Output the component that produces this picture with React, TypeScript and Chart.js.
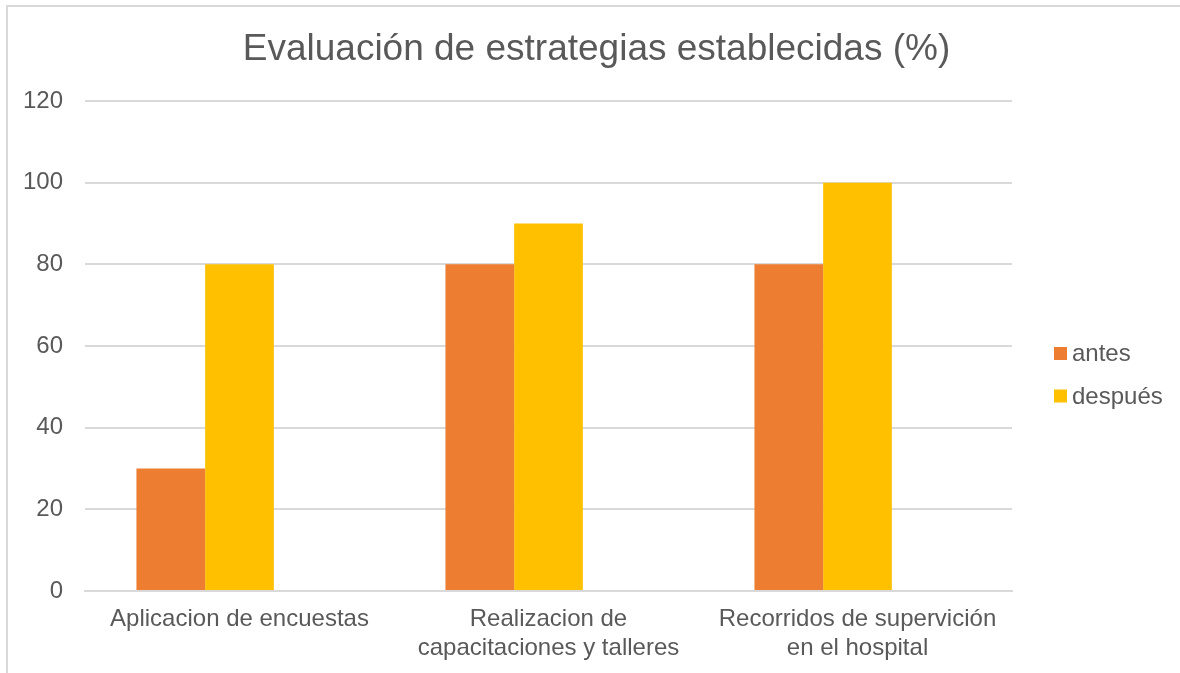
import React, { useEffect, useRef } from "react";
import { Chart, registerables } from "chart.js";

Chart.register(...registerables);

const chartTitle = "Evaluación de estrategias establecidas (%)";
const categories: (string | string[])[] = [
  "Aplicacion de encuestas",
  ["Realizacion de", "capacitaciones y talleres"],
  ["Recorridos de supervición", "en el hospital"],
];
const seriesNames = ["antes", "después", ""];
const antesValues = [30, 80, 80];
const despuesValues = [80, 90, 100];
const emptySeriesValues: (number | null)[] = [null, null, null];
const yMin = 0;
const yMax = 120;
const yStep = 20;

const FONT = '"Liberation Sans", Arial, sans-serif';
const TEXT = "#595959";
const GRID = "#D9D9D9";

const framePlugin = {
  id: "frame",
  beforeDraw(chart: any) {
    const ctx = chart.ctx;
    ctx.save();
    ctx.fillStyle = "#ffffff";
    ctx.fillRect(0, 0, chart.width, chart.height);
    ctx.strokeStyle = GRID;
    ctx.lineWidth = 2;
    ctx.beginPath();
    ctx.moveTo(7, chart.height + 5);
    ctx.lineTo(7, 6);
    ctx.lineTo(chart.width + 5, 6);
    ctx.stroke();
    ctx.restore();
  },
};

const titlePlugin = {
  id: "drawnTitle",
  afterDraw(chart: any) {
    const ctx = chart.ctx;
    ctx.save();
    ctx.fillStyle = TEXT;
    ctx.font = `37px ${FONT}`;
    ctx.textAlign = "center";
    ctx.textBaseline = "alphabetic";
    ctx.fillText(chartTitle, 596.5, 60);
    ctx.restore();
  },
};

const legendPlugin = {
  id: "sideLegend",
  afterDraw(chart: any) {
    const ctx = chart.ctx;
    const x = chart.chartArea.right + 42;
    const y0 = 353.5;
    const gap = 42.5;
    ctx.save();
    chart.data.datasets
      .filter((ds: any) => ds.label)
      .forEach((ds: any, i: number) => {
        const cy = y0 + i * gap;
        ctx.fillStyle = ds.backgroundColor;
        ctx.fillRect(x, cy - 6.5, 13, 13);
        ctx.fillStyle = TEXT;
        ctx.font = `24px ${FONT}`;
        ctx.textBaseline = "middle";
        ctx.textAlign = "left";
        ctx.fillText(ds.label, x + 18, cy + 1);
      });
    ctx.restore();
  },
};

export default function App() {
  const ref = useRef<HTMLCanvasElement | null>(null);
  useEffect(() => {
    if (!ref.current) return;
    const common = { categoryPercentage: 0.667, barPercentage: 1 };
    const chart = new Chart(ref.current, {
      type: "bar",
      data: {
        labels: categories,
        datasets: [
          { label: seriesNames[0], data: antesValues, backgroundColor: "#ED7D31", ...common },
          { label: seriesNames[1], data: despuesValues, backgroundColor: "#FFC000", ...common },
          { label: seriesNames[2], data: emptySeriesValues, backgroundColor: "#A5A5A5", ...common },
        ],
      },
      options: {
        responsive: false,
        animation: false,
        devicePixelRatio: 1,
        layout: { padding: { left: 0, right: 168, top: 101, bottom: 0 } },
        plugins: {
          legend: { display: false },
          tooltip: { enabled: false },
          title: { display: false },
        },
        scales: {
          x: {
            grid: { display: false },
            border: { display: true, color: GRID, width: 2 },
            ticks: {
              color: TEXT,
              font: { family: FONT, size: 24, lineHeight: 1.2 },
              padding: 6,
              maxRotation: 0,
              autoSkip: false,
            },
            afterFit(scale: any) {
              scale.height = 82;
            },
          },
          y: {
            min: yMin,
            max: yMax,
            ticks: {
              stepSize: yStep,
              color: TEXT,
              font: { family: FONT, size: 24 },
              padding: 22,
            },
            grid: { color: GRID, lineWidth: 2, drawTicks: false },
            border: { display: false },
            afterFit(scale: any) {
              scale.width = 85;
            },
          },
        },
      },
      plugins: [framePlugin, titlePlugin, legendPlugin],
    });
    return () => chart.destroy();
  }, []);
  return (
    <div style={{ position: "absolute", left: 0, top: 0, width: 1180, height: 673, background: "#fff" }}>
      <canvas ref={ref} width={1180} height={673} style={{ width: 1180, height: 673, display: "block" }} />
    </div>
  );
}
